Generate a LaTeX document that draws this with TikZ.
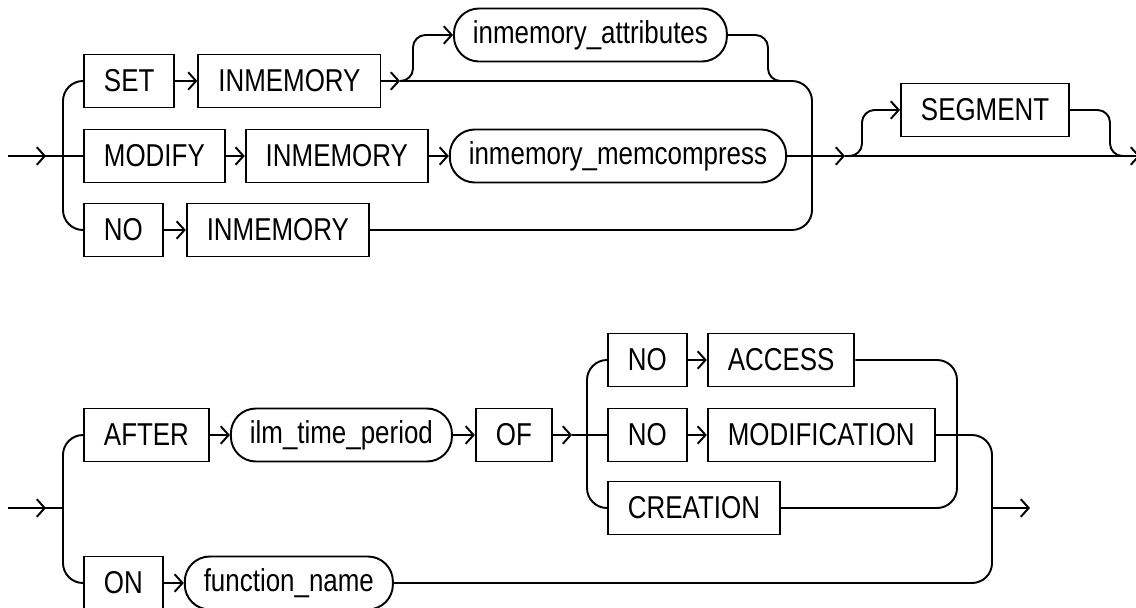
\documentclass[tikz,border=0pt]{standalone}
\usepackage{fontspec}
\setmainfont{Liberation Sans}[FakeStretch=0.82]
\usetikzlibrary{arrows.meta,positioning}
\tikzset{kw node/.style={rectangle,draw,minimum height=1.06cm,inner xsep=0.4cm,inner ysep=0pt},
	var node/.style={rectangle,rounded corners=0.5cm,draw,minimum height=1.06cm,inner xsep=0.38cm,inner ysep=0pt},
}

\begin{document}
\begin{tikzpicture}[x=0.02cm,y=-0.02cm,>={Straight Barb[length=4.5pt,width=10pt]},line width=1.1pt,
		node distance=0.44cm,font=\fontsize{18}{20}\selectfont,
		turn/.style={rounded corners=0.4cm},hook/.style={rounded corners=0.25cm}]
		
		\useasboundingbox (0,0) rectangle (1136,608);
		
		% first diagram
		\node[kw node,anchor=west] (set) at (83,81) {SET};
		\node[kw node,right=of set] (inma) {INMEMORY};
		\node[var node,anchor=west] (attr) at (453,35) {inmemory\_attributes};
		\node[kw node,anchor=west] (modify) at (83,156) {MODIFY};
		\node[kw node,right=0.38cm of modify] (inmb) {INMEMORY};
		\node[var node,right=0.4cm of inmb] (memc) {inmemory\_memcompress};
		\node[kw node,anchor=west] (no) at (83,230) {NO};
		\node[kw node,right=of no] (inmc) {INMEMORY};
		\node[kw node,anchor=west] (segment) at (900,110) {SEGMENT};
		
		\coordinate (ina) at (8,156);
		\coordinate (spl) at (400,81);
		\coordinate (opt) at (845,156);
		\coordinate (outa) at (1140,156);
		
		\draw[->] (ina) -- (46,156);
		\draw (ina) -- (modify.west);
		\draw[turn] (set.west) -| (63,230) -- (no.west);
		\draw[->] (set) -- (inma);
		\draw[->] (inma) -- (spl);
		\draw[->,hook] (spl) -| (413,35) -- (attr);
		\draw[hook] (attr.east) -| (768,81) -- ++(15,0);
		\draw[turn] (spl) -| (812,230) -- (inmc);
		\draw[->] (modify) -- (inmb);
		\draw[->] (inmb) -- (memc);
		\draw[->] (no) -- (inmc);
		\draw[->] (memc) -- (opt);
		\draw[->,hook] (opt) -| (862,110) -- (segment);
		\draw[hook] (segment.east) -| (1110,156) -- ++(12,0);
		\draw[->] (opt) -- (outa);
		
		% second diagram
		\node[kw node,anchor=west] (after) at (83,435) {AFTER};
		\node[var node,right=0.4cm of after] (ilm) {ilm\_time\_period};
		\node[kw node,right=of ilm] (of) {OF};
		\node[kw node,anchor=west] (noa) at (607,360) {NO};
		\node[kw node,right=0.38cm of noa] (access) {ACCESS};
		\node[kw node,anchor=west] (nob) at (607,435) {NO};
		\node[kw node,right=0.38cm of nob] (modif) {MODIFICATION};
		\node[kw node,anchor=west] (creation) at (607,508) {CREATION};
		\node[kw node,anchor=west] (on) at (83,583) {ON};
		\node[var node,right=0.4cm of on] (func) {function\_name};
		
		\coordinate (inb) at (8,508);
		\coordinate (spb) at (572,435);
		\coordinate (mrg) at (992,508);
		\coordinate (outb) at (1030,508);
		
		\draw[->] (inb) -- (46,508);
		\draw (inb) -- (63,508);
		\draw[turn] (after.west) -| (63,583) -- (on.west);
		\draw[->] (after) -- (ilm);
		\draw[->] (ilm) -- (of);
		\draw[->] (of) -- (spb);
		\draw (spb) -- (nob);
		\draw[turn] (noa.west) -| (587,508) -- (creation.west);
		\draw[->] (noa) -- (access);
		\draw[->] (nob) -- (modif);
		\draw[turn] (access.east) -| (957,508) -- (creation.east);
		\draw[turn] (modif.east) -| (992,583) -- (func.east);
		\draw[->] (on) -- (func);
		\draw[->] (mrg) -- (outb);
\end{tikzpicture}
\end{document}
